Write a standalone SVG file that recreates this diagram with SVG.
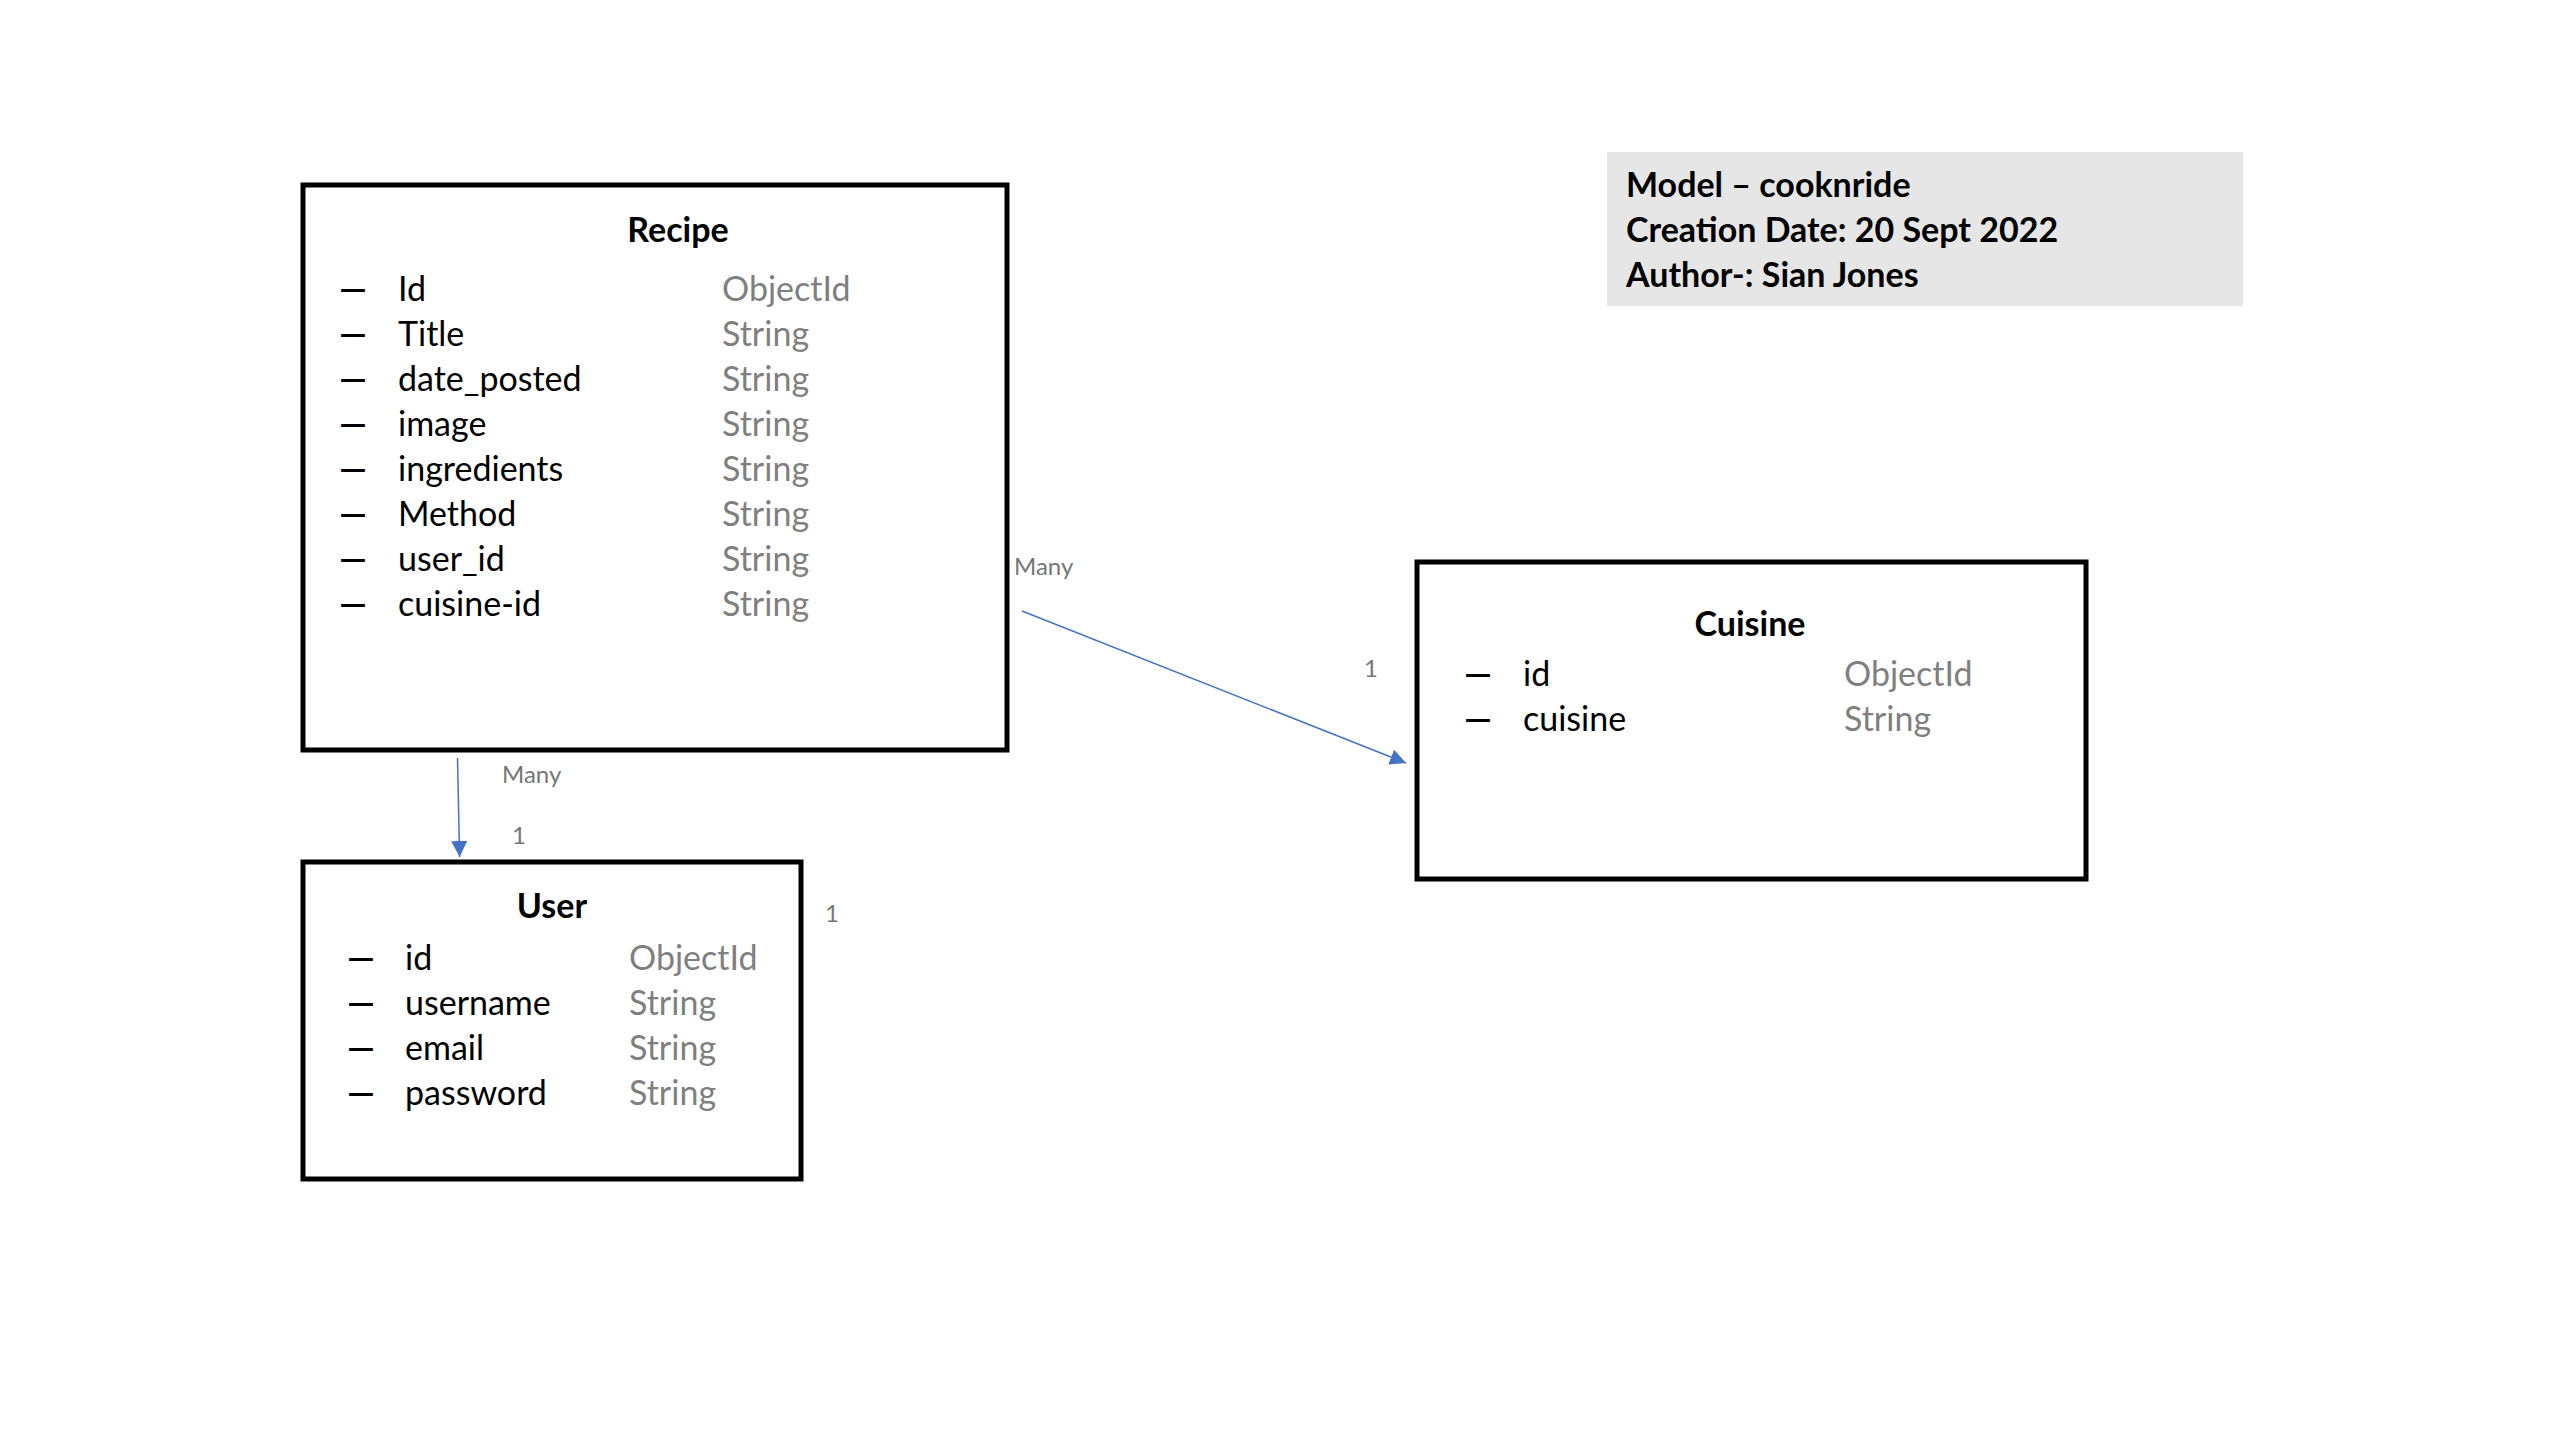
<svg xmlns="http://www.w3.org/2000/svg" width="2560" height="1440" viewBox="0 0 2560 1440">
<defs>
<style>
.box{fill:#FFFFFF;stroke:#000000;stroke-width:5}
.title{font-family:Lato,"Open Sans",sans-serif;font-size:34px;font-weight:bold;fill:#000000;text-anchor:middle}
.f{font-family:Lato,"Open Sans",sans-serif;font-size:34px;fill:#000000}
.d{font-family:Lato,"Open Sans",sans-serif;font-size:34px;font-weight:bold;fill:#000000}
.t{font-family:Lato,"Open Sans",sans-serif;font-size:34px;fill:#7F7F7F}
.lbl{font-family:Lato,"Open Sans",sans-serif;font-size:24px;fill:#767676}
.info{font-family:Lato,"Open Sans",sans-serif;font-size:34px;font-weight:bold;fill:#000000}
.conn{stroke:#4472C4;stroke-width:1.5;fill:none}
</style>
<marker id="arrBig" viewBox="0 0 10 10" refX="10" refY="5" markerWidth="16" markerHeight="16" markerUnits="userSpaceOnUse" orient="auto">
<path d="M0,0 L10,5 L0,10 Z" fill="#4472C4"/>
</marker>
</defs>
<rect width="2560" height="1440" fill="#FFFFFF"/>

<g id="info">
<rect x="1607" y="152" width="636" height="154" fill="#E6E6E6"/>
<text class="info" x="1626" y="197">Model – cooknride</text>
<text class="info" x="1626" y="242">Creation Date: 20 Sept 2022</text>
<text class="info" x="1626" y="287">Author-: Sian Jones</text>
</g>

<g id="recipe">
<rect class="box" x="303" y="185" width="704" height="565"/>
<text class="title" x="678" y="242">Recipe</text>
<text class="d" x="339" y="301" textLength="28" lengthAdjust="spacingAndGlyphs">—</text><text class="f" x="398" y="301">Id</text><text class="t" x="722" y="301">ObjectId</text>
<text class="d" x="339" y="346" textLength="28" lengthAdjust="spacingAndGlyphs">—</text><text class="f" x="398" y="346">Title</text><text class="t" x="722" y="346">String</text>
<text class="d" x="339" y="391" textLength="28" lengthAdjust="spacingAndGlyphs">—</text><text class="f" x="398" y="391">date_posted</text><text class="t" x="722" y="391">String</text>
<text class="d" x="339" y="436" textLength="28" lengthAdjust="spacingAndGlyphs">—</text><text class="f" x="398" y="436">image</text><text class="t" x="722" y="436">String</text>
<text class="d" x="339" y="481" textLength="28" lengthAdjust="spacingAndGlyphs">—</text><text class="f" x="398" y="481">ingredients</text><text class="t" x="722" y="481">String</text>
<text class="d" x="339" y="526" textLength="28" lengthAdjust="spacingAndGlyphs">—</text><text class="f" x="398" y="526">Method</text><text class="t" x="722" y="526">String</text>
<text class="d" x="339" y="571" textLength="28" lengthAdjust="spacingAndGlyphs">—</text><text class="f" x="398" y="571">user_id</text><text class="t" x="722" y="571">String</text>
<text class="d" x="339" y="616" textLength="28" lengthAdjust="spacingAndGlyphs">—</text><text class="f" x="398" y="616">cuisine-id</text><text class="t" x="722" y="616">String</text>
</g>

<g id="cuisine">
<rect class="box" x="1417" y="562" width="669" height="317"/>
<text class="title" x="1750" y="636">Cuisine</text>
<text class="d" x="1464" y="686" textLength="28" lengthAdjust="spacingAndGlyphs">—</text><text class="f" x="1523" y="686">id</text><text class="t" x="1844" y="686">ObjectId</text>
<text class="d" x="1464" y="731" textLength="28" lengthAdjust="spacingAndGlyphs">—</text><text class="f" x="1523" y="731">cuisine</text><text class="t" x="1844" y="731">String</text>
</g>

<g id="user">
<rect class="box" x="303" y="862" width="498" height="317"/>
<text class="title" x="552" y="918">User</text>
<text class="d" x="347" y="970" textLength="28" lengthAdjust="spacingAndGlyphs">—</text><text class="f" x="405" y="970">id</text><text class="t" x="629" y="970">ObjectId</text>
<text class="d" x="347" y="1015" textLength="28" lengthAdjust="spacingAndGlyphs">—</text><text class="f" x="405" y="1015">username</text><text class="t" x="629" y="1015">String</text>
<text class="d" x="347" y="1060" textLength="28" lengthAdjust="spacingAndGlyphs">—</text><text class="f" x="405" y="1060">email</text><text class="t" x="629" y="1060">String</text>
<text class="d" x="347" y="1105" textLength="28" lengthAdjust="spacingAndGlyphs">—</text><text class="f" x="405" y="1105">password</text><text class="t" x="629" y="1105">String</text>
</g>

<g id="connectors">
<line class="conn" x1="457.5" y1="758" x2="459.6" y2="857" marker-end="url(#arrBig)"/>
<line class="conn" x1="1022" y1="611" x2="1406" y2="763" marker-end="url(#arrBig)"/>
<text class="lbl" x="502" y="783">Many</text>
<text class="lbl" x="512" y="844">1</text>
<text class="lbl" x="1014" y="575">Many</text>
<text class="lbl" x="1364" y="677">1</text>
<text class="lbl" x="825" y="922">1</text>
</g>
</svg>
